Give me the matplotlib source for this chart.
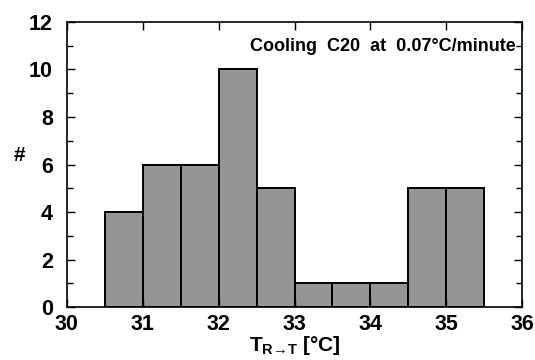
import matplotlib
matplotlib.use('Agg')
import matplotlib.pyplot as plt
from matplotlib.ticker import MultipleLocator

# histogram of transition temperatures, bin edges and counts
bin_edges = [30.5, 31.0, 31.5, 32.0, 32.5, 33.0, 33.5, 34.0, 34.5, 35.0, 35.5]
counts = [4, 6, 6, 10, 5, 1, 1, 1, 5, 5]
x_ticks = [30, 31, 32, 33, 34, 35, 36]
y_ticks = [0, 2, 4, 6, 8, 10, 12]

plt.rcParams['font.family'] = ['Liberation Sans', 'DejaVu Sans']
plt.rcParams['mathtext.fontset'] = 'custom'
plt.rcParams['mathtext.rm'] = 'Liberation Sans:bold'
plt.rcParams['mathtext.it'] = 'Liberation Sans:bold'
plt.rcParams['mathtext.bf'] = 'Liberation Sans:bold'

fig = plt.figure(figsize=(5.35, 3.6), dpi=100)
ax = fig.add_axes([0.125, 0.147, 0.851, 0.792])

widths = [bin_edges[i + 1] - bin_edges[i] for i in range(len(counts))]
ax.bar(bin_edges[:-1], counts, width=widths, align='edge',
       color='#959595', edgecolor='black', linewidth=1.4)

ax.set_xlim(30, 36)
ax.set_ylim(0, 12)
ax.set_xticks(x_ticks)
ax.set_yticks(y_ticks)
ax.yaxis.set_minor_locator(MultipleLocator(1))
ax.tick_params(which='both', direction='in', top=True, right=True,
               labelsize=15.5, width=1)
ax.tick_params(axis='x', pad=5)
ax.tick_params(axis='y', pad=10)
ax.tick_params(which='major', length=6)
ax.tick_params(which='minor', length=4)
for lab in ax.get_xticklabels() + ax.get_yticklabels():
    lab.set_fontweight('bold')
for s in ax.spines.values():
    s.set_linewidth(1.2)

ax.set_xlabel(r'T$_{\mathrm{R→T}}$ [°C]', fontsize=15, fontweight='bold')
ax.xaxis.set_label_coords(0.5, -0.095)
ax.set_ylabel('#', fontsize=15, fontweight='bold', rotation=0, va='center', ha='center')
ax.yaxis.set_label_coords(-0.105, 0.53)

ax.text(0.985, 0.915, 'Cooling  C20  at  0.07°C/minute', transform=ax.transAxes,
        ha='right', va='center', fontsize=13, fontweight='bold')

fig.savefig('out.png', dpi=100)
